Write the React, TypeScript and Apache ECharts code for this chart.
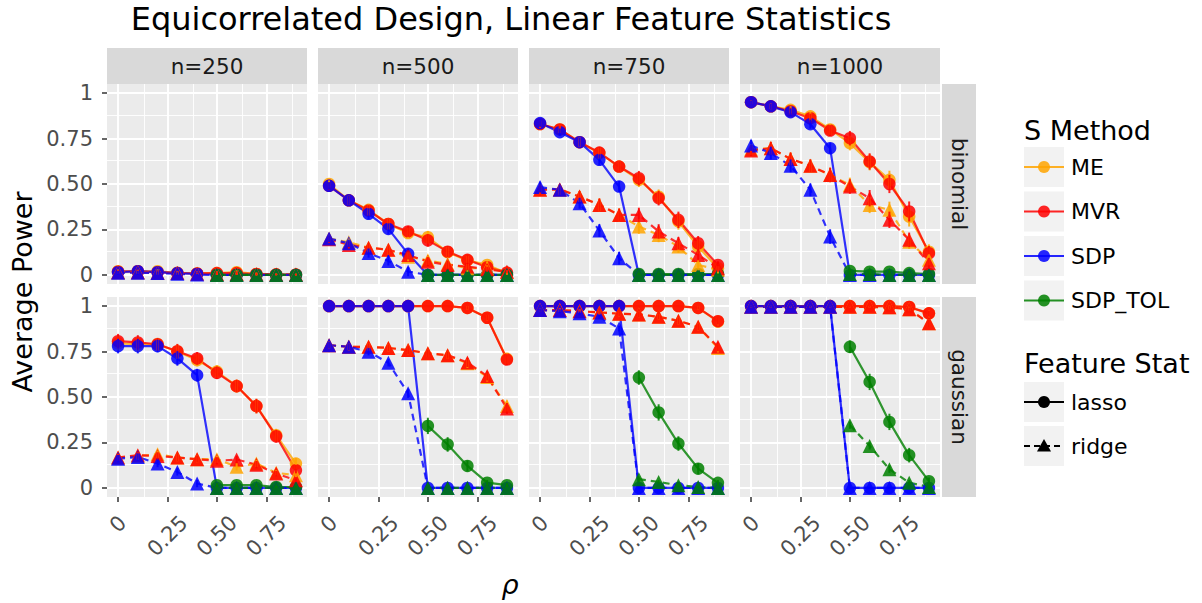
import React, { useEffect, useRef } from "react";
import * as echarts from "echarts";

const FONT = "DejaVu Sans";
const RHO = [0, 0.1, 0.2, 0.3, 0.4, 0.5, 0.6, 0.7, 0.8, 0.9];
const RHO_TOL = [0.5, 0.6, 0.7, 0.8, 0.9];

const METHODS = ["ME", "MVR", "SDP", "SDP_TOL"];
const METHOD_COLORS = ["#FFA500", "#FF0000", "#0000FF", "#008000"];
const STATS = ["lasso", "ridge"];
const COL_LABELS = ["n=250", "n=500", "n=750", "n=1000"];
const ROW_LABELS = ["binomial", "gaussian"];
const X_TICKS = [0, 0.25, 0.5, 0.75];
const X_TICK_LABELS = ["0", "0.25", "0.50", "0.75"];
const Y_TICKS = [0, 0.25, 0.5, 0.75, 1];
const Y_TICK_LABELS = ["0", "0.25", "0.50", "0.75", "1"];
const X_MINOR = [0.125, 0.375, 0.625, 0.875];
const Y_MINOR = [0.125, 0.375, 0.625, 0.875];

// ---- binomial, n=250 ----
const bin250_ME_lasso = [0.02, 0.02, 0.02, 0.012, 0.008, 0.01, 0.015, 0.005, 0.003, 0.002];
const bin250_MVR_lasso = [0.018, 0.02, 0.015, 0.01, 0.008, 0.01, 0.01, 0.005, 0.003, 0.002];
const bin250_SDP_lasso = [0.015, 0.02, 0.015, 0.01, 0.005, 0, 0, 0, 0, 0];
const bin250_TOL_lasso = [0, 0, 0, 0, 0];
const bin250_ME_ridge = [0.015, 0.015, 0.012, 0.01, 0.006, 0.005, 0.005, 0.004, 0.002, 0.002];
const bin250_MVR_ridge = [0.015, 0.015, 0.012, 0.01, 0.006, 0.005, 0.005, 0.004, 0.002, 0.002];
const bin250_SDP_ridge = [0.012, 0.012, 0.01, 0.006, 0.002, 0, 0, 0, 0, 0];
const bin250_TOL_ridge = [0, 0, 0, 0, 0];
const bin250_err_lasso = [0.01, 0.01, 0.01, 0.01, 0.01, 0.01, 0.01, 0.008, 0.005, 0.005];
const bin250_err_ridge = [0.01, 0.01, 0.01, 0.008, 0.005, 0.005, 0.005, 0.005, 0.003, 0.003];
const bin250_err_tol_lasso = [0, 0, 0, 0, 0];
const bin250_err_tol_ridge = [0, 0, 0, 0, 0];

// ---- binomial, n=500 ----
const bin500_ME_lasso = [0.5, 0.41, 0.358, 0.28, 0.23, 0.207, 0.125, 0.08, 0.055, 0.01];
const bin500_MVR_lasso = [0.49, 0.41, 0.354, 0.28, 0.239, 0.19, 0.128, 0.083, 0.042, 0.013];
const bin500_SDP_lasso = [0.49, 0.41, 0.336, 0.253, 0.116, 0, 0, 0, 0, 0];
const bin500_TOL_lasso = [0, 0, 0, 0, 0];
const bin500_ME_ridge = [0.2, 0.18, 0.15, 0.138, 0.1, 0.08, 0.06, 0.037, 0.037, 0.015];
const bin500_MVR_ridge = [0.196, 0.165, 0.15, 0.138, 0.11, 0.073, 0.055, 0.046, 0.031, 0.018];
const bin500_SDP_ridge = [0.2, 0.174, 0.12, 0.077, 0.018, 0, 0, 0, 0, 0];
const bin500_TOL_ridge = [0, 0, 0, 0, 0];
const bin500_err_lasso = [0.02, 0.025, 0.03, 0.03, 0.03, 0.035, 0.03, 0.025, 0.02, 0.01];
const bin500_err_ridge = [0.02, 0.02, 0.025, 0.025, 0.025, 0.025, 0.025, 0.02, 0.015, 0.01];
const bin500_err_tol_lasso = [0, 0, 0, 0, 0];
const bin500_err_tol_ridge = [0, 0, 0, 0, 0];

// ---- binomial, n=750 ----
const bin750_ME_lasso = [0.83, 0.8, 0.73, 0.67, 0.596, 0.523, 0.43, 0.294, 0.156, 0.037];
const bin750_MVR_lasso = [0.83, 0.8, 0.73, 0.673, 0.596, 0.532, 0.422, 0.303, 0.174, 0.055];
const bin750_SDP_lasso = [0.835, 0.785, 0.73, 0.633, 0.486, 0, 0, 0, 0, 0];
const bin750_TOL_lasso = [0.005, 0.005, 0.005, 0.005, 0.005];
const bin750_ME_ridge = [0.47, 0.47, 0.431, 0.385, 0.33, 0.266, 0.22, 0.156, 0.055, 0.028];
const bin750_MVR_ridge = [0.468, 0.47, 0.431, 0.385, 0.33, 0.33, 0.239, 0.174, 0.11, 0.037];
const bin750_SDP_ridge = [0.483, 0.468, 0.394, 0.244, 0.092, 0, 0, 0, 0, 0];
const bin750_TOL_ridge = [0, 0, 0, 0, 0];
const bin750_err_lasso = [0.02, 0.02, 0.025, 0.03, 0.03, 0.04, 0.04, 0.045, 0.04, 0.02];
const bin750_err_ridge = [0.03, 0.03, 0.03, 0.035, 0.035, 0.04, 0.04, 0.035, 0.03, 0.02];
const bin750_err_tol_lasso = [0.005, 0.005, 0.005, 0.005, 0.005];
const bin750_err_tol_ridge = [0, 0, 0, 0, 0];

// ---- binomial, n=1000 ----
const bin1000_ME_lasso = [0.95, 0.927, 0.908, 0.872, 0.8, 0.725, 0.62, 0.523, 0.321, 0.128];
const bin1000_MVR_lasso = [0.95, 0.927, 0.9, 0.862, 0.794, 0.752, 0.624, 0.5, 0.349, 0.119];
const bin1000_SDP_lasso = [0.95, 0.927, 0.895, 0.829, 0.697, 0, 0, 0, 0, 0];
const bin1000_TOL_lasso = [0.022, 0.018, 0.018, 0.01, 0.005];
const bin1000_ME_ridge = [0.69, 0.697, 0.638, 0.6, 0.55, 0.495, 0.385, 0.358, 0.183, 0.083];
const bin1000_MVR_ridge = [0.684, 0.697, 0.638, 0.6, 0.55, 0.486, 0.422, 0.303, 0.193, 0.064];
const bin1000_SDP_ridge = [0.712, 0.67, 0.6, 0.468, 0.211, 0, 0, 0, 0, 0];
const bin1000_TOL_ridge = [0.005, 0.005, 0, 0, 0];
const bin1000_err_lasso = [0.01, 0.015, 0.02, 0.025, 0.03, 0.04, 0.045, 0.05, 0.055, 0.04];
const bin1000_err_ridge = [0.03, 0.035, 0.035, 0.035, 0.04, 0.04, 0.045, 0.045, 0.04, 0.03];
const bin1000_err_tol_lasso = [0.01, 0.01, 0.01, 0.008, 0.005];
const bin1000_err_tol_ridge = [0.005, 0.005, 0, 0, 0];

// ---- gaussian, n=250 ----
const gau250_ME_lasso = [0.795, 0.79, 0.79, 0.75, 0.703, 0.64, 0.56, 0.45, 0.29, 0.134];
const gau250_MVR_lasso = [0.807, 0.8, 0.79, 0.752, 0.712, 0.633, 0.56, 0.45, 0.284, 0.097];
const gau250_SDP_lasso = [0.78, 0.78, 0.78, 0.712, 0.62, 0, 0, 0, 0, 0];
const gau250_TOL_lasso = [0.015, 0.015, 0.015, 0.005, 0.005];
const gau250_ME_ridge = [0.167, 0.175, 0.185, 0.167, 0.158, 0.158, 0.116, 0.134, 0.083, 0.07];
const gau250_MVR_ridge = [0.167, 0.18, 0.176, 0.167, 0.158, 0.149, 0.156, 0.128, 0.079, 0.042];
const gau250_SDP_ridge = [0.161, 0.17, 0.134, 0.088, 0.024, 0, 0, 0, 0, 0];
const gau250_TOL_ridge = [0, 0, 0, 0, 0];
const gau250_err_lasso = [0.04, 0.04, 0.035, 0.04, 0.035, 0.035, 0.035, 0.04, 0.035, 0.03];
const gau250_err_ridge = [0.02, 0.02, 0.02, 0.02, 0.02, 0.02, 0.02, 0.02, 0.015, 0.01];
const gau250_err_tol_lasso = [0.01, 0.01, 0.01, 0.005, 0.005];
const gau250_err_tol_ridge = [0, 0, 0, 0, 0];

// ---- gaussian, n=500 ----
const gau500_ME_lasso = [1, 1, 1, 1, 1, 1, 1, 0.99, 0.936, 0.71];
const gau500_MVR_lasso = [1, 1, 1, 1, 1, 1, 1, 0.99, 0.936, 0.706];
const gau500_SDP_lasso = [1, 1, 1, 1, 1, 0, 0, 0, 0, 0];
const gau500_TOL_lasso = [0.341, 0.239, 0.121, 0.029, 0.015];
const gau500_ME_ridge = [0.785, 0.776, 0.776, 0.77, 0.758, 0.74, 0.73, 0.685, 0.61, 0.45];
const gau500_MVR_ridge = [0.785, 0.776, 0.776, 0.77, 0.758, 0.74, 0.73, 0.69, 0.615, 0.437];
const gau500_SDP_ridge = [0.785, 0.776, 0.749, 0.688, 0.52, 0, 0, 0, 0, 0];
const gau500_TOL_ridge = [0, 0, 0, 0, 0];
const gau500_err_lasso = [0, 0, 0, 0, 0, 0, 0, 0.01, 0.015, 0.03];
const gau500_err_ridge = [0.02, 0.02, 0.02, 0.02, 0.025, 0.02, 0.02, 0.025, 0.025, 0.03];
const gau500_err_tol_lasso = [0.045, 0.04, 0.03, 0.015, 0.01];
const gau500_err_tol_ridge = [0, 0, 0, 0, 0];

// ---- gaussian, n=750 ----
const gau750_ME_lasso = [1, 1, 1, 1, 1, 1, 1, 1, 0.99, 0.915];
const gau750_MVR_lasso = [1, 1, 1, 1, 1, 1, 1, 1, 0.99, 0.917];
const gau750_SDP_lasso = [1, 1, 1, 1, 1, 0, 0, 0, 0, 0];
const gau750_TOL_lasso = [0.607, 0.415, 0.244, 0.106, 0.028];
const gau750_ME_ridge = [0.978, 0.978, 0.972, 0.965, 0.958, 0.954, 0.941, 0.919, 0.886, 0.77];
const gau750_MVR_ridge = [0.978, 0.978, 0.972, 0.965, 0.958, 0.954, 0.941, 0.919, 0.886, 0.776];
const gau750_SDP_ridge = [0.978, 0.972, 0.96, 0.941, 0.877, 0, 0, 0, 0, 0];
const gau750_TOL_ridge = [0.048, 0.033, 0.015, 0.005, 0];
const gau750_err_lasso = [0, 0, 0, 0, 0, 0, 0, 0, 0.01, 0.02];
const gau750_err_ridge = [0.01, 0.01, 0.01, 0.01, 0.015, 0.015, 0.015, 0.02, 0.02, 0.025];
const gau750_err_tol_lasso = [0.04, 0.045, 0.04, 0.03, 0.015];
const gau750_err_tol_ridge = [0.015, 0.01, 0.01, 0.005, 0];

// ---- gaussian, n=1000 ----
const gau1000_ME_lasso = [1, 1, 1, 1, 1, 1, 1, 1, 0.995, 0.96];
const gau1000_MVR_lasso = [1, 1, 1, 1, 1, 1, 1, 1, 0.995, 0.96];
const gau1000_SDP_lasso = [1, 1, 1, 1, 1, 0, 0, 0, 0, 0];
const gau1000_TOL_lasso = [0.776, 0.583, 0.363, 0.18, 0.037];
const gau1000_ME_ridge = [0.996, 0.996, 0.996, 0.996, 0.996, 0.996, 0.996, 0.993, 0.983, 0.905];
const gau1000_MVR_ridge = [0.996, 0.996, 0.996, 0.996, 0.996, 0.996, 0.996, 0.993, 0.983, 0.905];
const gau1000_SDP_ridge = [0.996, 0.996, 0.996, 0.996, 0.996, 0, 0, 0, 0, 0];
const gau1000_TOL_ridge = [0.345, 0.231, 0.103, 0.029, 0.005];
const gau1000_err_lasso = [0, 0, 0, 0, 0, 0, 0, 0, 0.005, 0.015];
const gau1000_err_ridge = [0.005, 0.005, 0.005, 0.005, 0.005, 0.005, 0.005, 0.01, 0.01, 0.02];
const gau1000_err_tol_lasso = [0.035, 0.045, 0.045, 0.04, 0.02];
const gau1000_err_tol_ridge = [0.02, 0.02, 0.02, 0.015, 0.01];

const PANELS = [
  { lasso: [bin250_ME_lasso, bin250_MVR_lasso, bin250_SDP_lasso, bin250_TOL_lasso], ridge: [bin250_ME_ridge, bin250_MVR_ridge, bin250_SDP_ridge, bin250_TOL_ridge], err: [bin250_err_lasso, bin250_err_ridge], errTol: [bin250_err_tol_lasso, bin250_err_tol_ridge] },
  { lasso: [bin500_ME_lasso, bin500_MVR_lasso, bin500_SDP_lasso, bin500_TOL_lasso], ridge: [bin500_ME_ridge, bin500_MVR_ridge, bin500_SDP_ridge, bin500_TOL_ridge], err: [bin500_err_lasso, bin500_err_ridge], errTol: [bin500_err_tol_lasso, bin500_err_tol_ridge] },
  { lasso: [bin750_ME_lasso, bin750_MVR_lasso, bin750_SDP_lasso, bin750_TOL_lasso], ridge: [bin750_ME_ridge, bin750_MVR_ridge, bin750_SDP_ridge, bin750_TOL_ridge], err: [bin750_err_lasso, bin750_err_ridge], errTol: [bin750_err_tol_lasso, bin750_err_tol_ridge] },
  { lasso: [bin1000_ME_lasso, bin1000_MVR_lasso, bin1000_SDP_lasso, bin1000_TOL_lasso], ridge: [bin1000_ME_ridge, bin1000_MVR_ridge, bin1000_SDP_ridge, bin1000_TOL_ridge], err: [bin1000_err_lasso, bin1000_err_ridge], errTol: [bin1000_err_tol_lasso, bin1000_err_tol_ridge] },
  { lasso: [gau250_ME_lasso, gau250_MVR_lasso, gau250_SDP_lasso, gau250_TOL_lasso], ridge: [gau250_ME_ridge, gau250_MVR_ridge, gau250_SDP_ridge, gau250_TOL_ridge], err: [gau250_err_lasso, gau250_err_ridge], errTol: [gau250_err_tol_lasso, gau250_err_tol_ridge] },
  { lasso: [gau500_ME_lasso, gau500_MVR_lasso, gau500_SDP_lasso, gau500_TOL_lasso], ridge: [gau500_ME_ridge, gau500_MVR_ridge, gau500_SDP_ridge, gau500_TOL_ridge], err: [gau500_err_lasso, gau500_err_ridge], errTol: [gau500_err_tol_lasso, gau500_err_tol_ridge] },
  { lasso: [gau750_ME_lasso, gau750_MVR_lasso, gau750_SDP_lasso, gau750_TOL_lasso], ridge: [gau750_ME_ridge, gau750_MVR_ridge, gau750_SDP_ridge, gau750_TOL_ridge], err: [gau750_err_lasso, gau750_err_ridge], errTol: [gau750_err_tol_lasso, gau750_err_tol_ridge] },
  { lasso: [gau1000_ME_lasso, gau1000_MVR_lasso, gau1000_SDP_lasso, gau1000_TOL_lasso], ridge: [gau1000_ME_ridge, gau1000_MVR_ridge, gau1000_SDP_ridge, gau1000_TOL_ridge], err: [gau1000_err_lasso, gau1000_err_ridge], errTol: [gau1000_err_tol_lasso, gau1000_err_tol_ridge] },
];

// ---- layout ----
const PANEL_LEFT = [107, 318, 529, 740];
const PANEL_TOP = [84, 297];
const PANEL_W = 200;
const PANEL_H = 200;
const X_MIN = -0.056;
const X_MAX = 0.956;
const Y_MIN = -0.05;
const Y_MAX = 1.05;
const TICK_FONT = 21;

export default function App() {
  const ref = useRef<HTMLDivElement>(null);

  useEffect(() => {
    document.body.style.margin = "0";
    const el = ref.current as HTMLDivElement;
    const chart = echarts.init(el, null, { renderer: "svg" });

    const grids: any[] = [];
    const xAxes: any[] = [];
    const yAxes: any[] = [];
    const series: any[] = [];

    for (let r = 0; r < 2; r++) {
      for (let c = 0; c < 4; c++) {
        const p = r * 4 + c;
        grids.push({
          left: PANEL_LEFT[c], top: PANEL_TOP[r], width: PANEL_W, height: PANEL_H,
          show: true, backgroundColor: "#EBEBEB", borderWidth: 0,
        });
        xAxes.push({
          type: "value", gridIndex: p, min: X_MIN, max: X_MAX,
          axisLine: { show: false, onZero: false },
          splitLine: { show: false },
          axisLabel: { show: false },
          axisTick: { show: r === 1, customValues: X_TICKS, length: 5, lineStyle: { color: "#333333", width: 1.5 } },
        });
        yAxes.push({
          type: "value", gridIndex: p, min: Y_MIN, max: Y_MAX,
          axisLine: { show: false, onZero: false },
          splitLine: { show: false },
          axisLabel: {
            show: c === 0, customValues: Y_TICKS,
            formatter: (v: number) => {
              const i = Y_TICKS.findIndex((t) => Math.abs(t - v) < 1e-9);
              return i >= 0 ? Y_TICK_LABELS[i] : "";
            },
            color: "#4D4D4D", fontSize: TICK_FONT, margin: 14, fontFamily: FONT,
          },
          axisTick: { show: c === 0, customValues: Y_TICKS, length: 5, lineStyle: { color: "#333333", width: 1.5 } },
        });

        // grid lines (through the axes' own scales)
        const ml: any[] = [];
        X_TICKS.forEach((v) => ml.push({ xAxis: v, lineStyle: { color: "#FFFFFF", width: 1.9, type: "solid" } }));
        X_MINOR.forEach((v) => ml.push({ xAxis: v, lineStyle: { color: "#FFFFFF", width: 0.9, type: "solid" } }));
        Y_TICKS.forEach((v) => ml.push({ yAxis: v, lineStyle: { color: "#FFFFFF", width: 1.9, type: "solid" } }));
        Y_MINOR.forEach((v) => ml.push({ yAxis: v, lineStyle: { color: "#FFFFFF", width: 0.9, type: "solid" } }));
        series.push({
          type: "line", xAxisIndex: p, yAxisIndex: p, data: [], silent: true, z: 1,
          markLine: {
            silent: true, symbol: ["none", "none"], z: 1, animation: false,
            label: { show: false }, emphasis: { disabled: true },
            lineStyle: { color: "#FFFFFF", type: "solid" },
            data: ml,
          },
        });

        const panel = PANELS[p];
        STATS.forEach((stat, si) => {
          const vals = si === 0 ? panel.lasso : panel.ridge;
          METHODS.forEach((m, mi) => {
            const color = METHOD_COLORS[mi];
            const xs = mi === 3 ? RHO_TOL : RHO;
            const ys = vals[mi];
            const errs = mi === 3 ? panel.errTol[si] : panel.err[si];
            const pts = xs.map((x, i) => [x, ys[i]]);
            series.push({
              type: "line", name: `${m} ${stat}`, xAxisIndex: p, yAxisIndex: p,
              data: pts, showSymbol: false, symbol: "none", silent: true, z: 2,
              lineStyle: { color, width: 2.2, type: si === 0 ? "solid" : [7, 5], opacity: 0.8 },
              itemStyle: { color },
            });
            series.push({
              type: "scatter", xAxisIndex: p, yAxisIndex: p, data: pts, silent: true, z: 3,
              symbol: si === 0 ? "circle" : "triangle", symbolSize: si === 0 ? 12.5 : 14,
              itemStyle: { color, opacity: 0.85 },
            });
            const ebData = xs.map((x, i) => [x, ys[i], ys[i] > 0 ? errs[i] : 0]);
            series.push({
              type: "custom", xAxisIndex: p, yAxisIndex: p, data: ebData, silent: true, z: 4,
              encode: { x: 0, y: 1 },
              renderItem: (params: any, api: any) => {
                const x = api.value(0), y = api.value(1), e = api.value(2);
                if (!(e > 0)) return null;
                const a = api.coord([x, y - e]);
                const b = api.coord([x, y + e]);
                return {
                  type: "line",
                  shape: { x1: a[0], y1: a[1], x2: b[0], y2: b[1] },
                  style: { stroke: color, lineWidth: 2, opacity: 0.85 },
                };
              },
            });
          });
        });
      }
    }

    chart.setOption({
      animation: false,
      textStyle: { fontFamily: FONT },
      grid: grids,
      xAxis: xAxes,
      yAxis: yAxes,
      series,
    });

    // ---- graphic: title, strips, axis titles, tick labels, legend ----
    const g: any[] = [];
    g.push({
      type: "text", x: 511, y: 19,
      style: { text: "Equicorrelated Design, Linear Feature Statistics", fontSize: 32, fontFamily: FONT, fill: "#000000", align: "center", verticalAlign: "middle" },
    });
    COL_LABELS.forEach((lab, c) => {
      g.push({ type: "rect", shape: { x: PANEL_LEFT[c], y: 48, width: PANEL_W, height: 36 }, style: { fill: "#D9D9D9" } });
      g.push({ type: "text", x: PANEL_LEFT[c] + PANEL_W / 2, y: 66, style: { text: lab, fontSize: 21.5, fontFamily: FONT, fill: "#1A1A1A", align: "center", verticalAlign: "middle" } });
    });
    ROW_LABELS.forEach((lab, r) => {
      g.push({ type: "rect", shape: { x: 942, y: PANEL_TOP[r], width: 34, height: PANEL_H }, style: { fill: "#D9D9D9" } });
      g.push({ type: "text", x: 959, y: PANEL_TOP[r] + PANEL_H / 2, rotation: -Math.PI / 2, style: { text: lab, fontSize: 21.5, fontFamily: FONT, fill: "#1A1A1A", align: "center", verticalAlign: "middle" } });
    });
    g.push({ type: "text", x: 22, y: 292, rotation: Math.PI / 2, style: { text: "Average Power", fontSize: 27, fontFamily: FONT, fill: "#000000", align: "center", verticalAlign: "middle" } });
    g.push({ type: "text", x: 510, y: 584, style: { text: "ρ", fontSize: 27, fontStyle: "italic", fontFamily: FONT, fill: "#000000", align: "center", verticalAlign: "middle" } });

    // x tick labels, rotated 45deg, centred below their ticks
    const ctx = document.createElement("canvas").getContext("2d") as CanvasRenderingContext2D;
    ctx.font = `${TICK_FONT}px "${FONT}"`;
    for (let c = 0; c < 4; c++) {
      const p = 4 + c;
      X_TICKS.forEach((v, i) => {
        const px = chart.convertToPixel({ xAxisIndex: p }, v) as number;
        const w = ctx.measureText(X_TICK_LABELS[i]).width;
        const h = (w + 0.73 * TICK_FONT) / Math.SQRT2;
        g.push({
          type: "text", x: px, y: 514 + h / 2, rotation: Math.PI / 4,
          style: { text: X_TICK_LABELS[i], fontSize: TICK_FONT, fontFamily: FONT, fill: "#4D4D4D", align: "center", verticalAlign: "middle" },
        });
      });
    }

    // legend
    const KX = 1024, KW = 40, KH = 40;
    g.push({ type: "text", x: 1024, y: 130, style: { text: "S Method", fontSize: 27, fontFamily: FONT, fill: "#000000", align: "left", verticalAlign: "middle" } });
    const methodKeyY = [167, 211.5, 256, 300.5];
    METHODS.forEach((m, i) => {
      const cy = methodKeyY[i];
      g.push({ type: "rect", shape: { x: KX, y: cy - KH / 2, width: KW, height: KH }, style: { fill: "#F2F2F2" } });
      g.push({ type: "line", shape: { x1: KX, y1: cy, x2: KX + KW, y2: cy }, style: { stroke: METHOD_COLORS[i], lineWidth: 2.2, opacity: 0.85 } });
      g.push({ type: "circle", shape: { cx: KX + KW / 2, cy, r: 6 }, style: { fill: METHOD_COLORS[i], opacity: 0.85 } });
      g.push({ type: "text", x: 1071, y: cy, style: { text: m, fontSize: 22, fontFamily: FONT, fill: "#000000", align: "left", verticalAlign: "middle" } });
    });
    g.push({ type: "text", x: 1024, y: 363, style: { text: "Feature Stat", fontSize: 27, fontFamily: FONT, fill: "#000000", align: "left", verticalAlign: "middle" } });
    const statKeyY = [402, 446];
    STATS.forEach((s, i) => {
      const cy = statKeyY[i];
      g.push({ type: "rect", shape: { x: KX, y: cy - KH / 2, width: KW, height: KH }, style: { fill: "#F2F2F2" } });
      g.push({ type: "line", shape: { x1: KX, y1: cy, x2: KX + KW, y2: cy }, style: { stroke: "#000000", lineWidth: 2.2, lineDash: i === 0 ? null : [6, 4] } });
      if (i === 0) {
        g.push({ type: "circle", shape: { cx: KX + KW / 2, cy, r: 6 }, style: { fill: "#000000" } });
      } else {
        g.push({ type: "polygon", shape: { points: [[KX + KW / 2, cy - 7], [KX + KW / 2 - 7, cy + 5.5], [KX + KW / 2 + 7, cy + 5.5]] }, style: { fill: "#000000" } });
      }
      g.push({ type: "text", x: 1071, y: cy, style: { text: s, fontSize: 22, fontFamily: FONT, fill: "#000000", align: "left", verticalAlign: "middle" } });
    });

    chart.setOption({ graphic: { elements: g } });

    return () => chart.dispose();
  }, []);

  return <div ref={ref} style={{ width: 1202, height: 603 }} />;
}
